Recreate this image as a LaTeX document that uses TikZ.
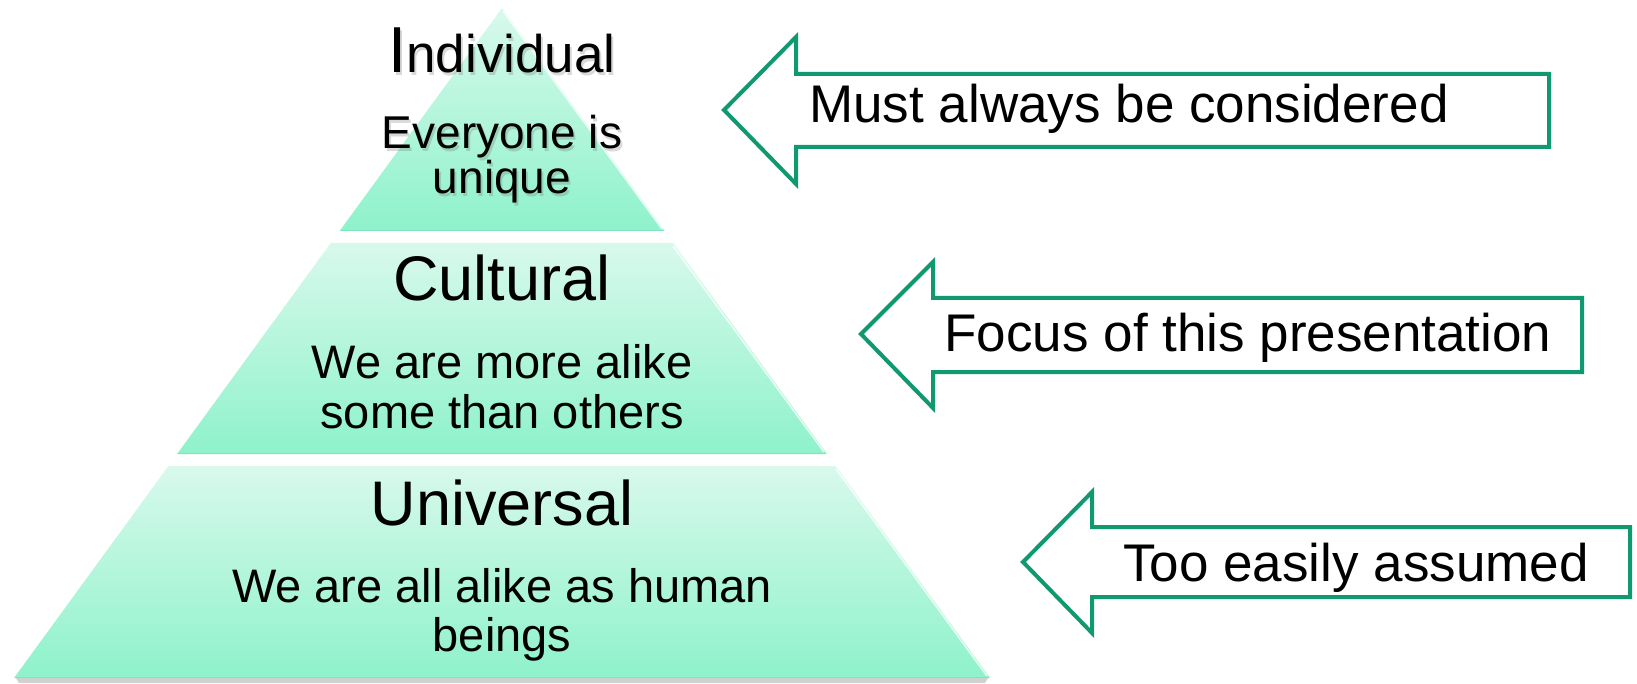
\documentclass[tikz,border=0pt]{standalone}
\usepackage{fontspec}
\setmainfont{Liberation Sans}
\definecolor{tiertop}{RGB}{216,249,236}
\definecolor{tierbot}{RGB}{142,242,203}
\definecolor{tieredge}{RGB}{128,228,190}
\definecolor{arrowgreen}{RGB}{16,152,112}
\begin{document}
\begin{tikzpicture}[x=1pt,y=-1pt,
  tier/.style={top color=tiertop,bottom color=tierbot,draw=none},
  lbl/.style={inner sep=0pt,anchor=base,text=black},
  tshadow/.style={inner sep=0pt,anchor=base,text=black!60,opacity=0.25},
  blockarrow/.style={draw=arrowgreen,line width=4pt,fill=white,line join=miter},
  hilite/.style={draw=white,line width=1.6pt,opacity=0.75},
  bigtxt/.style={font=\fontsize{63}{63}\selectfont},
  midtxt/.style={font=\fontsize{47}{47}\selectfont},
  toptxt/.style={font=\fontsize{46}{46}\selectfont},
  arrtxt/.style={font=\fontsize{53}{53}\selectfont},
]
\useasboundingbox (0,0) rectangle (1637,684);

% ---------- pyramid ----------
\fill[black!30,opacity=0.6] (16,678) -- (988,678) -- (985,683) -- (19,683) -- cycle;
\path[tier] (502,8) -- (664.4,231) -- (339.6,231) -- cycle;
\path[tier] (330.8,243) -- (673.2,243) -- (826.9,454) -- (177.1,454) -- cycle;
\path[tier] (168.4,466) -- (835.6,466) -- (990,678) -- (14,678) -- cycle;
% bottom edges
\draw[tieredge,line width=1pt] (340.5,230.5) -- (663.5,230.5);
\draw[tieredge,line width=1pt] (178,453.5) -- (826,453.5);
\draw[tieredge,line width=1pt] (15,677.5) -- (989,677.5);
% right-edge highlights
\draw[hilite] (503,11) -- (662,229);
\draw[hilite] (673,246) -- (824,452);
\draw[hilite] (836,469) -- (987,676);

% ---------- pyramid text ----------
\node[tshadow] at (504,76) {{\fontsize{65}{65}\selectfont I}{\fontsize{53}{53}\selectfont ndividual}};
\node[lbl] (ind) at (502,73) {{\fontsize{65}{65}\selectfont I}{\fontsize{53}{53}\selectfont ndividual}};
\node[tshadow,toptxt] at (504,152) {Everyone is};
\node[lbl,toptxt] (ind1) at (502,149) {Everyone is};
\node[tshadow,toptxt] at (504,197) {unique};
\node[lbl,toptxt] (ind2) at (502,194) {unique};

\node[lbl,bigtxt] (cul) at (502,301) {Cultural};
\node[lbl,midtxt] (cul1) at (502,378) {We are more alike};
\node[lbl,midtxt] (cul2) at (502,428) {some than others};

\node[lbl,bigtxt] (uni) at (502,525) {Universal};
\node[lbl,midtxt] (uni1) at (502,602) {We are all alike as human};
\node[lbl,midtxt] (uni2) at (502,651) {beings};

% ---------- arrows ----------
\coordinate (a1tip) at (724,110);
\draw[blockarrow] (a1tip) -- (796,37) -- (796,74) -- (1549,74) -- (1549,147) -- (796,147) -- (796,184) -- cycle;
\node[lbl,arrtxt] (t1) at (1129,123) {Must always be considered};

\coordinate (a2tip) at (861,334);
\draw[blockarrow] (a2tip) -- (933,262) -- (933,298) -- (1582,298) -- (1582,372) -- (933,372) -- (933,408) -- cycle;
\node[lbl,arrtxt] (t2) at (1248,351) {Focus of this presentation};

\coordinate (a3tip) at (1023,562);
\draw[blockarrow] (a3tip) -- (1092,492) -- (1092,527) -- (1630,527) -- (1630,597) -- (1092,597) -- (1092,633) -- cycle;
\node[lbl,arrtxt] (t3) at (1356,581) {Too easily assumed};
\end{tikzpicture}
\end{document}
